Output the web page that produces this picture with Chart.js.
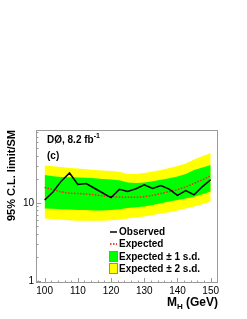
<!DOCTYPE html>
<html>
<head>
<meta charset="utf-8">
<script src="https://cdn.jsdelivr.net/npm/chart.js@4/dist/chart.umd.min.js"></script>
<style>
  html, body { margin: 0; padding: 0; background: #fff; }
  #wrap { width: 247px; height: 319px; }
</style>
</head>
<body>
<div id="wrap"><canvas id="limitChart" width="247" height="319"></canvas></div>
<script>
const masses = [100, 102.5, 105, 107.5, 110, 112.5, 115, 117.5, 120, 122.5, 125, 127.5, 130, 132.5, 135, 137.5, 140, 142.5, 145, 147.5, 150];
const observed = [10.9, 13.8, 19.0, 24.2, 17.2, 17.7, 15.4, 13.4, 11.7, 14.9, 14.0, 15.2, 17.0, 15.3, 16.7, 15.0, 12.5, 14.4, 12.7, 16.2, 19.8];
const expected = [15.8, 14.8, 13.8, 13.3, 13.2, 13.0, 12.7, 12.3, 12.0, 11.9, 11.8, 11.8, 12.0, 12.5, 13.2, 14.0, 14.8, 16.0, 17.8, 19.8, 22.3];
const plus1 = [22.8, 22.0, 21.5, 21.3, 21.1, 21.0, 20.7, 20.2, 20.0, 19.5, 18.2, 18.0, 18.3, 19.0, 19.8, 20.7, 21.8, 23.5, 26.5, 28.5, 30.7];
const minus1 = [8.5, 8.4, 8.3, 8.2, 8.1, 8.1, 8.0, 8.0, 8.1, 8.3, 8.6, 8.8, 9.0, 9.4, 9.9, 10.4, 10.9, 11.4, 12.0, 12.9, 14.0];
const plus2 = [30.2, 29.5, 28.8, 28.0, 27.6, 27.0, 26.5, 26.0, 25.6, 25.0, 23.5, 23.5, 24.2, 25.2, 26.5, 28.0, 29.8, 32.0, 36.0, 39.5, 43.5];
const minus2 = [6.3, 6.2, 6.1, 6.0, 5.9, 5.9, 5.9, 5.9, 6.0, 6.1, 6.3, 6.5, 6.7, 7.0, 7.3, 7.6, 8.0, 8.5, 9.0, 9.6, 10.4];

const xTicks = [100, 110, 120, 130, 140, 150];
const yTicks = [1, 10];

const FONT = '"Liberation Sans", Arial, sans-serif';

function pts(arr) {
    return masses.map((m, i) => ({ x: m, y: arr[i] }));
}

// frame + inward ROOT-style ticks
const framePlugin = {
    id: 'frame',
    afterDatasetsDraw(chart) {
        const { ctx, chartArea: a, scales } = chart;
        ctx.save();
        ctx.strokeStyle = '#9a9a9a';
        ctx.lineWidth = 1;
        ctx.strokeRect(a.left + 0.5, a.top + 0.5, a.right - a.left - 1, a.bottom - a.top - 1);
        ctx.beginPath();
        // x ticks
        for (let v = 98; v <= 152; v += 2) {
            const px = Math.round(scales.x.getPixelForValue(v)) + 0.5;
            if (px < a.left || px > a.right) continue;
            const len = (v % 10 === 0) ? 5 : 2.5;
            ctx.moveTo(px, a.bottom);
            ctx.lineTo(px, a.bottom - len);
        }
        // y ticks (log)
        for (const dec of [1, 10]) {
            for (let k = 1; k <= 9; k++) {
                const v = dec * k;
                if (v < scales.y.min || v > scales.y.max) continue;
                const py = Math.round(scales.y.getPixelForValue(v)) + 0.5;
                const len = (k === 1) ? 5 : 2.5;
                ctx.moveTo(a.left, py);
                ctx.lineTo(a.left + len, py);
            }
        }
        ctx.stroke();
        ctx.restore();
    }
};

// labels, legend and axis title with subscript
const textPlugin = {
    id: 'texts',
    afterDraw(chart) {
        const { ctx, chartArea: a } = chart;
        ctx.save();
        ctx.fillStyle = '#000';
        ctx.textBaseline = 'alphabetic';
        ctx.font = 'bold 10px ' + FONT;
        ctx.fillText('DØ, 8.2 fb', 47, 143);
        const w = ctx.measureText('DØ, 8.2 fb').width;
        ctx.font = 'bold 7px ' + FONT;
        ctx.fillText('-1', 47 + w, 138);
        ctx.font = 'bold 10px ' + FONT;
        ctx.fillText('(c)', 47, 159);

        // legend
        ctx.textBaseline = 'middle';
        ctx.fillText('Observed', 119, 232);
        ctx.fillText('Expected', 119, 244);
        ctx.fillText('Expected ± 1 s.d.', 119, 257);
        ctx.fillText('Expected ± 2 s.d.', 119, 269);
        ctx.strokeStyle = '#000';
        ctx.lineWidth = 1.5;
        ctx.beginPath();
        ctx.moveTo(110, 232);
        ctx.lineTo(117, 232);
        ctx.stroke();
        ctx.strokeStyle = '#ff0000';
        ctx.setLineDash([1.5, 1.5]);
        ctx.beginPath();
        ctx.moveTo(110, 244);
        ctx.lineTo(117, 244);
        ctx.stroke();
        ctx.setLineDash([]);
        ctx.lineWidth = 1;
        ctx.strokeStyle = '#8c8c8c';
        ctx.fillStyle = '#00ff00';
        ctx.fillRect(110, 252, 8, 10);
        ctx.strokeRect(109.5, 251.5, 8, 10);
        ctx.fillStyle = '#ffff00';
        ctx.fillRect(110, 264, 8, 10);
        ctx.strokeRect(109.5, 263.5, 8, 10);

        // x title: M_H (GeV), right aligned to frame
        ctx.fillStyle = '#000';
        ctx.textBaseline = 'alphabetic';
        const big = 'bold 12px ' + FONT, small = 'bold 8px ' + FONT;
        ctx.font = big;
        const wM = ctx.measureText('M').width;
        const wRest = ctx.measureText(' (GeV)').width;
        ctx.font = small;
        const wH = ctx.measureText('H').width;
        let x0 = a.right - (wM + wH + wRest);
        const base = 306;
        ctx.font = big;
        ctx.fillText('M', x0, base);
        ctx.font = small;
        ctx.fillText('H', x0 + wM, base + 3);
        ctx.font = big;
        ctx.fillText(' (GeV)', x0 + wM + wH, base);
        ctx.restore();
    }
};

new Chart(document.getElementById('limitChart'), {
    type: 'line',
    data: {
        datasets: [
            {
                label: 'Expected ± 2 s.d.',
                data: pts(plus2),
                order: 5,
                borderColor: 'rgba(0,0,0,0)',
                backgroundColor: '#ffff00',
                borderWidth: 0,
                pointRadius: 0,
                fill: '+1'
            },
            {
                label: 'minus2',
                data: pts(minus2),
                order: 4,
                borderColor: 'rgba(0,0,0,0)',
                borderWidth: 0,
                pointRadius: 0,
                fill: false
            },
            {
                label: 'Expected ± 1 s.d.',
                data: pts(plus1),
                order: 3,
                borderColor: 'rgba(0,0,0,0)',
                backgroundColor: '#00ff00',
                borderWidth: 0,
                pointRadius: 0,
                fill: '+1'
            },
            {
                label: 'minus1',
                data: pts(minus1),
                order: 2,
                borderColor: 'rgba(0,0,0,0)',
                borderWidth: 0,
                pointRadius: 0,
                fill: false
            },
            {
                label: 'Expected',
                data: pts(expected),
                order: 1,
                borderColor: '#ff2020',
                borderWidth: 1.5,
                borderDash: [1.5, 1.5],
                pointRadius: 0,
                fill: false
            },
            {
                label: 'Observed',
                data: pts(observed),
                order: 0,
                borderColor: '#000000',
                borderWidth: 1.5,
                pointRadius: 0,
                fill: false
            }
        ]
    },
    options: {
        responsive: false,
        animation: false,
        devicePixelRatio: 1,
        layout: { padding: { top: 130, right: 29, bottom: 0, left: 0 } },
        plugins: {
            legend: { display: false },
            tooltip: { enabled: false },
            filler: { propagate: false }
        },
        scales: {
            x: {
                type: 'linear',
                min: 97.4,
                max: 152.2,
                grid: { display: false, drawTicks: false },
                border: { display: false },
                afterBuildTicks: (s) => { s.ticks = xTicks.map(v => ({ value: v })); },
                afterFit: (s) => { s.height = 36; },
                ticks: {
                    color: '#000',
                    padding: 2,
                    maxRotation: 0,
                    autoSkip: false,
                    font: { family: FONT, size: 10 }
                }
            },
            y: {
                type: 'logarithmic',
                min: 0.94,
                max: 86,
                grid: { display: false, drawTicks: false },
                border: { display: false },
                afterBuildTicks: (s) => { s.ticks = yTicks.map(v => ({ value: v })); },
                afterFit: (s) => { s.width = 36; },
                title: {
                    display: true,
                    text: '95% C.L. limit/SM',
                    align: 'end',
                    color: '#000',
                    padding: { top: 5, bottom: 0 },
                    font: { family: FONT, size: 11, weight: 'bold' }
                },
                ticks: {
                    color: '#000',
                    padding: 2,
                    autoSkip: false,
                    font: { family: FONT, size: 10 },
                    callback: (v) => String(v)
                }
            }
        }
    },
    plugins: [framePlugin, textPlugin]
});
</script>
</body>
</html>
